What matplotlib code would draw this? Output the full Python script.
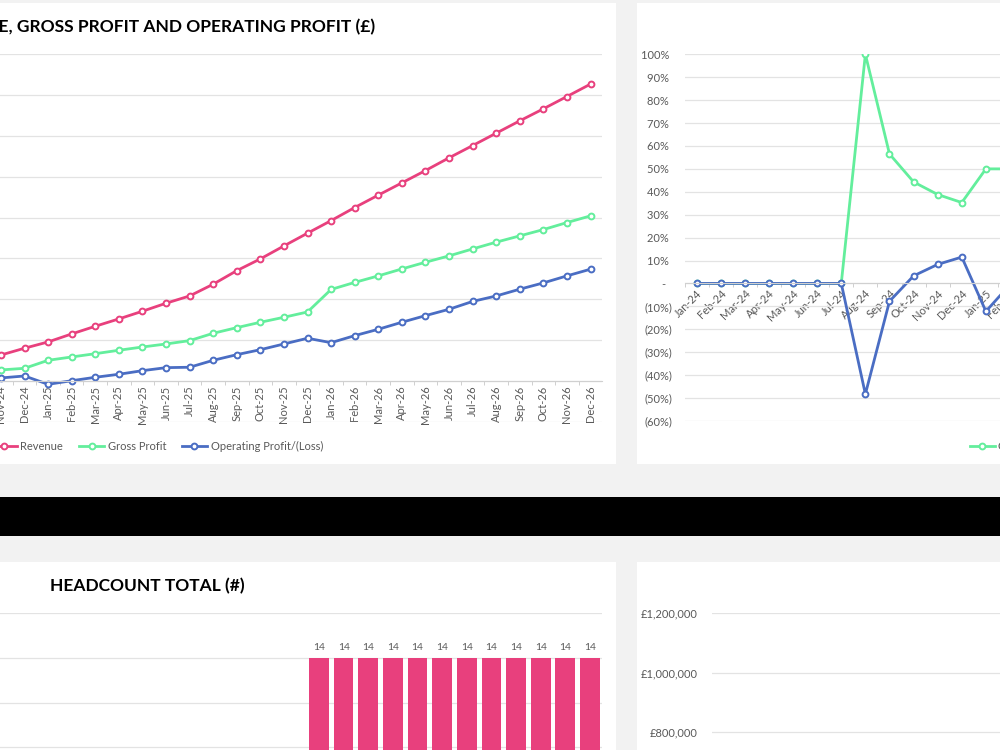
import matplotlib
matplotlib.use('Agg')
import matplotlib.pyplot as plt
from matplotlib.patches import Rectangle
from matplotlib.ticker import FixedLocator, FuncFormatter
import numpy as np

plt.rcParams['font.family'] = ['Lato', 'DejaVu Sans']

# --- data -------------------------------------------------------------
# revenue / gross profit / operating profit (GBP), visible months only
pl_months = ['Nov-24', 'Dec-24', 'Jan-25', 'Feb-25', 'Mar-25', 'Apr-25', 'May-25',
             'Jun-25', 'Jul-25', 'Aug-25', 'Sep-25', 'Oct-25', 'Nov-25', 'Dec-25',
             'Jan-26', 'Feb-26', 'Mar-26', 'Apr-26', 'May-26', 'Jun-26', 'Jul-26',
             'Aug-26', 'Sep-26', 'Oct-26', 'Nov-26', 'Dec-26']
revenue = [31700, 40000, 47700, 57500, 66900, 75900, 85300, 95100, 104000, 118400,
           135000, 149400, 165300, 180900, 196300, 212300, 227500, 242500, 257600,
           273200, 288200, 303400, 318500, 333200, 348300, 363500]
gross_profit = [13400, 15400, 25200, 29300, 33300, 37500, 41500, 45200, 49300, 58300,
                65200, 71800, 77900, 84400, 112000, 120600, 128600, 137100, 145300,
                153100, 161600, 169900, 177600, 185300, 193900, 202100]
operating_profit = [3600, 6000, -4200, 200, 4400, 8100, 12500, 16200, 16700, 25200,
                    32100, 38200, 45200, 52200, 46800, 55400, 63200, 71800, 79900,
                    87700, 97300, 104000, 112300, 120000, 128600, 136800]

# margins (%), visible months only
margin_months = ['Jan-24', 'Feb-24', 'Mar-24', 'Apr-24', 'May-24', 'Jun-24', 'Jul-24',
                 'Aug-24', 'Sep-24', 'Oct-24', 'Nov-24', 'Dec-24', 'Jan-25', 'Feb-25']
gross_margin = [0, 0, 0, 0, 0, 0, 0, 1.00, 0.565, 0.443, 0.388, 0.353, 0.50, 0.50]
operating_margin = [0, 0, 0, 0, 0, 0, 0, -0.483, -0.078, 0.033, 0.083, 0.115, -0.122, -0.005]

# headcount, visible months only
hc_months = ['Jan-26', 'Feb-26', 'Mar-26', 'Apr-26', 'May-26', 'Jun-26',
             'Jul-26', 'Aug-26', 'Sep-26', 'Oct-26', 'Nov-26', 'Dec-26']
headcount = [14, 14, 14, 14, 14, 14, 14, 14, 14, 14, 14, 14]

# --- style ------------------------------------------------------------
W, H = 1000, 750
PINK = '#E8407D'
GREEN = '#63EE9C'
BLUE = '#4A6DC3'
GRID = '#e3e3e3'
TXT = '#595959'
FS = 8


def box(x0, y0, x1, y1):
    # pixel box (top-left origin) -> figure fraction
    return [x0 / W, 1 - y1 / H, (x1 - x0) / W, (y1 - y0) / H]


fig = plt.figure(figsize=(10, 7.5), dpi=100, facecolor='#f2f2f2')

# panels and black band
for x0, y0, x1, y1, c in [(-10, 3.3, 615.5, 464, 'white'),
                          (637.3, 3.3, 1010, 464, 'white'),
                          (-10, 496.7, 1010, 536.3, 'black'),
                          (-10, 561.7, 615.5, 760, 'white'),
                          (637.3, 561.7, 1010, 760, 'white')]:
    fig.patches.append(Rectangle((x0 / W, 1 - y1 / H), (x1 - x0) / W, (y1 - y0) / H,
                                 transform=fig.transFigure, facecolor=c,
                                 edgecolor='none', zorder=-5))


def base_axes(rect):
    ax = fig.add_axes(box(*rect))
    ax.set_facecolor('none')
    for s in ['top', 'right', 'left', 'bottom']:
        ax.spines[s].set_visible(False)
    ax.grid(axis='y', color=GRID, linewidth=0.9)
    ax.set_axisbelow(True)
    ax.tick_params(colors=TXT, labelsize=FS, length=0)
    return ax


line_kw = dict(linewidth=2.0, marker='o', markersize=4.2, markerfacecolor='white',
               markeredgewidth=1.4, solid_joinstyle='round')

# --- top left: revenue, gross profit and operating profit --------------
ax1 = base_axes((0, 54.3, 601.6, 421.7))
x = np.arange(len(pl_months))
l1, = ax1.plot(x, revenue, color=PINK, markeredgecolor=PINK, label='Revenue', **line_kw)
l2, = ax1.plot(x, gross_profit, color=GREEN, markeredgecolor=GREEN, label='Gross Profit', **line_kw)
l3, = ax1.plot(x, operating_profit, color=BLUE, markeredgecolor=BLUE,
               label='Operating Profit/(Loss)', **line_kw)
ax1.set_xlim(-0.04, 25.47)
ax1.set_ylim(-50000, 400000)
ax1.set_yticks(np.arange(-50000, 400001, 50000))
ax1.tick_params(axis='y', left=False, labelleft=False)
ax1.spines['bottom'].set_visible(True)
ax1.spines['bottom'].set_position(('data', 0))
ax1.spines['bottom'].set_color('#d0d0d0')
ax1.set_xticks(x)
ax1.set_xticklabels(pl_months, rotation=90, va='top', ha='center')
ax1.xaxis.set_minor_locator(FixedLocator(x[:-1] + 0.5))
ax1.tick_params(axis='x', which='minor', length=3, color='#c8c8c8', direction='out')
ax1.tick_params(axis='x', which='major', pad=3.5)
fig.text(375 / W, 1 - 27 / H, 'REVENUE, GROSS PROFIT AND OPERATING PROFIT (£)',
         fontsize=12.5, fontweight='bold', color='black', ha='right', va='center')

fig.legend(handles=[l1, l2, l3], loc='center left',
           bbox_to_anchor=(-14 / W, 1 - 446 / H), ncol=3, frameon=False,
           fontsize=FS, labelcolor=TXT, handlelength=2.3, handletextpad=0.3,
           columnspacing=1.4, borderpad=0)

# --- top right: margins ------------------------------------------------
ax2 = base_axes((684.6, 54.3, 1030, 420.9))
xm = np.arange(len(margin_months))
g1, = ax2.plot(xm, gross_margin, color=GREEN, markeredgecolor=GREEN,
               label='Gross Margin %', **line_kw)
g2, = ax2.plot(xm, operating_margin, color=BLUE, markeredgecolor=BLUE,
               label='Operating Margin %', **line_kw)
ax2.set_xlim(-0.5, 13.83)
ax2.set_ylim(-0.6, 1.0)
ax2.set_yticks(np.round(np.arange(-0.6, 1.01, 0.1), 2))


def pct(v, pos):
    v = round(v * 100)
    if v == 0:
        return '-  '
    if v < 0:
        return '(%d%%)' % -v
    return '%d%% ' % v


ax2.yaxis.set_major_formatter(FuncFormatter(pct))
ax2.tick_params(axis='y', pad=9)
ax2.spines['bottom'].set_visible(True)
ax2.spines['bottom'].set_position(('data', 0))
ax2.spines['bottom'].set_color('#d0d0d0')
ax2.set_xticks(xm)
ax2.set_xticklabels(margin_months, rotation=45, ha='right', va='top',
                    rotation_mode='anchor')
ax2.xaxis.set_minor_locator(FixedLocator(np.arange(-0.5, 14, 1)))
ax2.tick_params(axis='x', which='minor', length=3, color='#c8c8c8', direction='out')
ax2.tick_params(axis='x', which='major', pad=3)

fig.legend(handles=[g1, g2], loc='center left',
           bbox_to_anchor=(964 / W, 1 - 446 / H), ncol=2, frameon=False,
           fontsize=FS, labelcolor=TXT, handlelength=2.3, handletextpad=0.3,
           columnspacing=1.4, borderpad=0)

# --- bottom left: headcount --------------------------------------------
ax3 = base_axes((0, 612.7, 602.3, 971.9))
xh = np.arange(len(hc_months))
bars = ax3.bar(xh, headcount, width=0.8, color=PINK)
ax3.bar_label(bars, padding=4, fontsize=7.5, color=TXT)
ax3.set_xlim(-12.95, 11.5)
ax3.set_ylim(0, 16)
ax3.set_yticks(np.arange(0, 17, 2))
ax3.tick_params(left=False, labelleft=False, bottom=False, labelbottom=False)
fig.text(50 / W, 1 - 586 / H, 'HEADCOUNT TOTAL (#)', fontsize=12.5,
         fontweight='bold', color='black', ha='left', va='center')

# --- bottom right: cash (£) --------------------------------------------
ax4 = base_axes((711.7, 612.7, 1040, 971.5))
ax4.set_xlim(0, 1)
ax4.set_ylim(0, 1200000)
ax4.set_yticks(np.arange(0, 1200001, 200000))
ax4.yaxis.set_major_formatter(FuncFormatter(lambda v, p: '£{:,.0f}'.format(v)))
ax4.tick_params(axis='y', pad=10)
ax4.tick_params(axis='x', bottom=False, labelbottom=False)

fig.savefig('out.png', dpi=100, facecolor=fig.get_facecolor())
